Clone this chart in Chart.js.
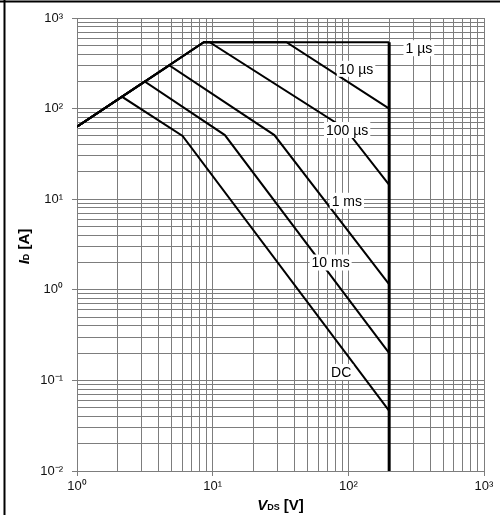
<!DOCTYPE html>
<html>
<head>
<meta charset="utf-8">
<title>Safe operating area</title>
<script src="https://cdn.jsdelivr.net/npm/chart.js@4.4.1/dist/chart.umd.min.js"></script>
<style>
  html, body { margin: 0; padding: 0; background: #fff; }
  #wrap { position: relative; width: 500px; height: 515px; }
</style>
</head>
<body>
<div id="wrap"><canvas id="soa"></canvas></div>
<script>
// V_DS [V] / I_D [A] corner points of each curve
const vds1us = [1, 8.6, 200];
const id1us = [63, 540, 540];
const vds10us = [1, 8.6, 35, 200];
const id10us = [63, 540, 540, 100];
const vds100us = [1, 8.6, 9.5, 95, 200];
const id100us = [63, 540, 540, 60, 14.4];
const vds1ms = [1, 4.8, 28.5, 200];
const id1ms = [63, 300, 51, 1.15];
const vds10ms = [1, 3.15, 12.3, 200];
const id10ms = [63, 199, 51, 0.2];
const vdsDC = [1, 2.15, 6, 200];
const idDC = [63, 135, 50, 0.046];
// V_DS max line
const vdsMax = [200, 200];
const idMax = [540, 0.01];

const curveNames = ['1 µs', '10 µs', '100 µs', '1 ms', '10 ms', 'DC'];
// where each curve name is written (V, A)
const nameVds = [331, 114, 98, 97.5, 74, 88.5];
const nameId = [464, 275, 58, 9.6, 2.0, 0.124];

const xExps = [0, 1, 2, 3];
const xTickLabels = ['10⁰', '10¹', '10²', '10³'];
const yExps = [-2, -1, 0, 1, 2, 3];
const yTickLabels = ['10⁻²', '10⁻¹', '10⁰', '10¹', '10²', '10³'];

const FONT = "'Liberation Sans', Arial, sans-serif";
const GRID = '#7d7d7d';

function points(xs, ys) {
  return xs.map((x, i) => ({ x: x, y: ys[i] }));
}

// decades plus 2..9 in between
function logTicks(exps) {
  const ticks = [];
  exps.forEach((e, k) => {
    const base = Math.pow(10, e);
    ticks.push({ value: base, major: true });
    if (k < exps.length - 1) {
      for (let m = 2; m <= 9; m++) ticks.push({ value: m * base, major: false });
    }
  });
  return ticks;
}

function decadeLabel(value, exps, labels) {
  const e = Math.round(Math.log10(value));
  if (Math.abs(Math.log10(value) - e) > 1e-6) return '';
  const k = exps.indexOf(e);
  return k < 0 ? '' : labels[k];
}

function curve(xs, ys, width) {
  return {
    data: points(xs, ys),
    showLine: true,
    borderColor: '#000',
    borderWidth: width,
    pointRadius: 0,
    fill: false,
    tension: 0
  };
}

// black frame at top and left edge of the picture
const framePlugin = {
  id: 'frame',
  afterDraw(chart) {
    const ctx = chart.ctx;
    ctx.save();
    ctx.fillStyle = '#000';
    ctx.fillRect(0, 0.5, chart.width, 2);
    ctx.fillRect(3.5, 0, 2, chart.height);
    ctx.restore();
  }
};

// curve names on white boxes
const namePlugin = {
  id: 'curveNames',
  afterDatasetsDraw(chart) {
    const ctx = chart.ctx;
    const xs = chart.scales.x, ys = chart.scales.y;
    ctx.save();
    ctx.font = '14px ' + FONT;
    ctx.textAlign = 'center';
    ctx.textBaseline = 'middle';
    curveNames.forEach((name, i) => {
      const px = xs.getPixelForValue(nameVds[i]);
      const py = ys.getPixelForValue(nameId[i]);
      const w = ctx.measureText(name).width;
      ctx.fillStyle = '#fff';
      ctx.fillRect(px - w / 2 - 2, py - 8, w + 4, 16);
      ctx.fillStyle = '#000';
      ctx.fillText(name, px, py + 1);
    });
    ctx.restore();
  }
};

function drawParts(ctx, parts) {
  let w = 0;
  parts.forEach(p => { ctx.font = p.font; w += ctx.measureText(p.text).width; });
  let x = -w / 2;
  parts.forEach(p => {
    ctx.font = p.font;
    ctx.fillText(p.text, x, p.dy);
    x += ctx.measureText(p.text).width;
  });
}

// axis titles with subscripts
const titlePlugin = {
  id: 'axisTitles',
  afterDraw(chart) {
    const ctx = chart.ctx;
    const area = chart.chartArea;
    ctx.save();
    ctx.fillStyle = '#000';
    ctx.textBaseline = 'alphabetic';
    ctx.textAlign = 'left';
    ctx.translate((area.left + area.right) / 2, 510);
    drawParts(ctx, [
      { text: 'V', font: 'italic bold 15px ' + FONT, dy: 0 },
      { text: 'DS', font: 'bold 9px ' + FONT, dy: 0 },
      { text: ' [V]', font: 'bold 15px ' + FONT, dy: 0 }
    ]);
    ctx.restore();

    ctx.save();
    ctx.fillStyle = '#000';
    ctx.textBaseline = 'alphabetic';
    ctx.textAlign = 'left';
    ctx.translate(28.5, (area.top + area.bottom) / 2 + 2);
    ctx.rotate(-Math.PI / 2);
    drawParts(ctx, [
      { text: 'I', font: 'italic bold 15px ' + FONT, dy: 0 },
      { text: 'D', font: 'bold 9px ' + FONT, dy: 0 },
      { text: ' [A]', font: 'bold 15px ' + FONT, dy: 0 }
    ]);
    ctx.restore();
  }
};

const tickColor = ctx => (ctx.tick && ctx.tick.major ? GRID : 'rgba(0,0,0,0)');

new Chart(document.getElementById('soa'), {
  type: 'scatter',
  data: {
    datasets: [
      curve(vds1us, id1us, 2),
      curve(vds10us, id10us, 2),
      curve(vds100us, id100us, 2),
      curve(vds1ms, id1ms, 2),
      curve(vds10ms, id10ms, 2),
      curve(vdsDC, idDC, 2),
      curve(vdsMax, idMax, 3)
    ]
  },
  options: {
    responsive: true,
    maintainAspectRatio: false,
    animation: false,
    layout: { padding: { left: 0, right: 16, top: 18, bottom: 0 } },
    plugins: {
      legend: { display: false },
      tooltip: { enabled: false }
    },
    scales: {
      x: {
        type: 'logarithmic',
        min: 1,
        max: 1000,
        afterBuildTicks: s => { s.ticks = logTicks(xExps); },
        afterFit: s => { s.height = 44; },
        grid: { color: GRID, lineWidth: 1, tickLength: 5, tickColor: tickColor },
        border: { color: GRID, width: 1 },
        ticks: {
          autoSkip: false,
          maxRotation: 0,
          padding: 3,
          color: '#111',
          font: { family: FONT, size: 13 },
          callback: v => decadeLabel(v, xExps, xTickLabels)
        }
      },
      y: {
        type: 'logarithmic',
        min: 0.01,
        max: 1000,
        afterBuildTicks: s => { s.ticks = logTicks(yExps); },
        afterFit: s => { s.width = 77; },
        grid: { color: GRID, lineWidth: 1, tickLength: 5, tickColor: tickColor },
        border: { color: GRID, width: 1 },
        ticks: {
          autoSkip: false,
          padding: 9,
          color: '#111',
          font: { family: FONT, size: 13 },
          callback: v => decadeLabel(v, yExps, yTickLabels)
        }
      }
    }
  },
  plugins: [namePlugin, titlePlugin, framePlugin]
});
</script>
</body>
</html>
